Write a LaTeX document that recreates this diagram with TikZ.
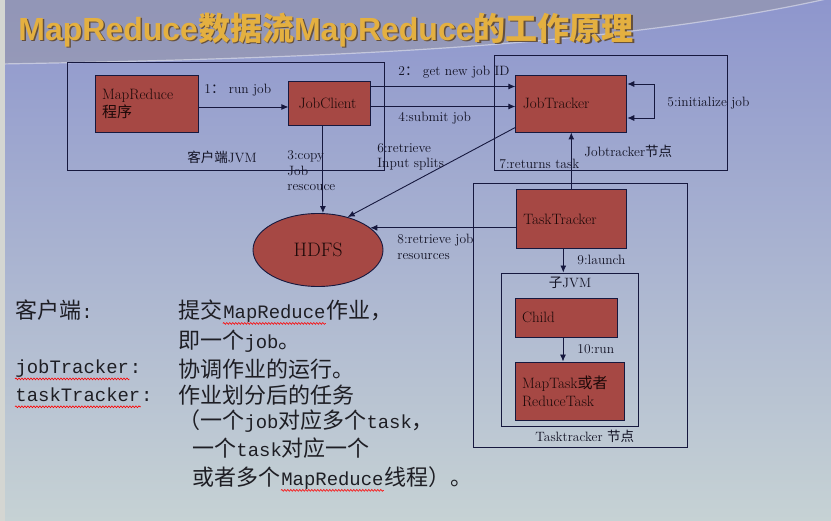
\documentclass[tikz,border=0pt]{standalone}
\usepackage{fontspec}
\setmonofont{Liberation Mono}[Scale=0.86]
\newfontfamily\cjk{Noto Sans CJK SC}
\newfontfamily\headfont{Liberation Sans}
\usetikzlibrary{
  shapes.geometric,
  positioning,
  calc,
  decorations.pathmorphing,
  arrows.meta}
\definecolor{boxcolor}{RGB}{166,72,68}
\definecolor{boxtext}{RGB}{28,8,8}
\definecolor{linecolor}{RGB}{22,24,62}
\definecolor{labelcolor}{RGB}{18,18,36}
\definecolor{notecolor}{RGB}{30,30,36}
\definecolor{titlecolor}{RGB}{228,176,64}
\definecolor{titleshade}{RGB}{100,80,62}
\definecolor{bgtop}{RGB}{142,150,205}
\definecolor{bgmid}{RGB}{186,196,238}
\definecolor{bgbottom}{RGB}{198,210,212}
\definecolor{swoosh}{RGB}{150,150,166}
\definecolor{stripcolor}{RGB}{212,214,210}

\tikzset{
  %% redbox : a daemon or process
  redbox/.style={
    rectangle,
    draw=linecolor,
    fill=boxcolor,
    text=boxtext,
    font=\fontsize{15}{18}\selectfont,
    inner xsep=7pt,
    inner ysep=0pt,
    align=left
  },
  %% store : the file system
  store/.style={
    ellipse,
    draw=linecolor,
    fill=boxcolor,
    text=boxtext,
    font=\fontsize{19.5}{22}\selectfont,
    minimum width=130pt,
    minimum height=73pt,
    inner sep=0pt
  },
  %% jvmframe : frame round a JVM or a machine
  jvmframe/.style={
    rectangle,
    draw=linecolor,
    inner sep=0pt
  },
  %% flow : a call or a data flow
  flow/.style={
    draw=linecolor,
    line width=0.9pt,
    -{Latex[length=7pt,width=6pt]}
  },
  %% steplabel : text at a flow
  steplabel/.style={
    text=labelcolor,
    font=\fontsize{13.5}{15.5}\selectfont,
    align=left,
    inner sep=0pt,
    anchor=west
  },
  %% note : the notes below the diagram
  note/.style={
    text=notecolor,
    font=\fontsize{22}{26}\selectfont,
    inner sep=0pt,
    anchor=west
  },
  %% spellmark : red wavy line under a word
  spellmark/.style={
    red,
    line width=0.6pt,
    decorate,
    decoration={snake, amplitude=0.9pt, segment length=3pt}
  }
}

\newcommand\titletext{%
  {\headfont\bfseries MapReduce}{\cjk\bfseries 数据流}%
  {\headfont\bfseries MapReduce}{\cjk\bfseries 的工作原理}}

\begin{document}
\begin{tikzpicture}
  [x=1pt,
  y=-1pt,
  line width=0.9pt]

  \useasboundingbox (0,0) rectangle (831,521);

  %% Background
  \fill [top color=bgtop, middle color=bgmid, bottom color=bgbottom]
  (0,0) rectangle (831,521);
  \fill [swoosh, opacity=0.55] (0,0) -- (831,0) -- (831,-2)
  .. controls (620,45) and (350,58) .. (0,64) -- cycle;
  \draw [white, opacity=0.45, line width=1.2pt] (831,-2)
  .. controls (620,45) and (350,58) .. (0,64);
  \fill [stripcolor] (0,0) rectangle (5,521);

  %% Title
  \node (titleshadow) [anchor=west, inner sep=0pt, text=titleshade,
  font=\fontsize{32}{36}\selectfont] at (19.5,31.5) {\titletext};
  \node (title) [anchor=west, inner sep=0pt, text=titlecolor,
  font=\fontsize{32}{36}\selectfont] at (18,30) {\titletext};

  %% Frames
  \node (clientjvm) [jvmframe, minimum width=317pt, minimum height=108pt]
  at (225.5,116) {};
  \node (jtframe) [jvmframe, minimum width=233pt, minimum height=115pt]
  at (610.5,112.5) {};
  \node (ttframe) [jvmframe, minimum width=214pt, minimum height=264pt]
  at (580,315) {};
  \node (jvmbox) [jvmframe, minimum width=137pt, minimum height=153pt]
  at (569.5,349.5) {};

  %% Daemons and processes
  \node (prog) [redbox, text width=89pt, minimum height=57pt]
  at (146.5,103.5) {%
    MapReduce\\
    {\cjk 程序}
  };

  \node (client) [redbox, right=90pt of prog, minimum width=82pt,
  minimum height=44pt, align=center]{%
    JobClient
  };

  \node (jt) [redbox, right=144pt of client, text width=97pt,
  minimum height=57pt]{%
    JobTracker
  };

  \node (tt) [redbox, below=57pt of jt, text width=96pt,
  minimum height=59pt]{%
    TaskTracker
  };

  \node (hdfs) [store] at (318,250) {HDFS};

  \node (child) [redbox, text width=88pt, minimum height=39pt]
  at (566,317.5) {%
    Child
  };

  \node (task) [redbox, text width=95pt, minimum height=58pt]
  at (569.5,391) {%
    MapTask{\cjk 或者}\\
    ReduceTask
  };

  %% Connections
  \draw [flow] ([yshift=-3.5pt]prog.east) -- ([yshift=-3.5pt]prog.east -| client.west);
  \draw [flow] ([yshift=17pt]client.east) -- ([yshift=17pt]client.east -| jt.west);
  \draw [flow] ([yshift=-3pt]client.east) -- ([yshift=-3pt]client.east -| jt.west);
  \draw [flow] ([xshift=-7pt]client.south) -- ([xshift=-7pt]client.south |- hdfs.north);
  \draw [draw=linecolor, {Latex[length=7pt,width=6pt]}-{Latex[length=7pt,width=6pt]}]
  ([yshift=19.5pt]jt.east) -- ++(27,0) -- ++(0,34) -- ++(-27,0);
  \draw [flow] ([yshift=5pt]jt.south west) -- (hdfs.48);
  \draw [flow] (tt.north) -- (tt.north |- jt.south);
  \draw [flow] (tt.west |- hdfs.23) -- (hdfs.23);
  \draw [flow] ([xshift=-8pt]tt.south) -- ([xshift=-8pt]tt.south |- jvmbox.north);
  \draw [flow] ([xshift=-3pt]child.south) -- ([xshift=-3pt]child.south |- task.north);

  %% Labels
  \node (lrun) [steplabel] at (204,90) {1{\cjk ：} run job};
  \node (lgetid) [steplabel] at (398,72) {2{\cjk ：} get new job ID};
  \node (lsubmit) [steplabel] at (398,118) {4:submit job};
  \node (linit) [steplabel] at (667,103) {5:initialize job};
  \node (ljtnode) [steplabel] at (584,151) {Jobtracker{\cjk 节点}};
  \node (lclientjvm) [steplabel] at (187,157) {{\cjk 客户端}JVM};
  \node (lcopy) [steplabel] at (287,171) {%
    3:copy\\
    Job\\
    rescouce};
  \node (lsplits) [steplabel] at (377,157) {%
    6:retrieve\\
    Input splits};
  \node (lreturns) [steplabel] at (499,164) {7:returns task};
  \node (lresources) [steplabel] at (397,247) {%
    8:retrieve job\\
    resources};
  \node (llaunch) [steplabel] at (577,260) {9:launch};
  \node (lchildjvm) [steplabel, anchor=center] at (570,283) {{\cjk 子}JVM};
  \node (lrun10) [steplabel] at (577,349) {10:run};
  \node (lttnode) [steplabel] at (535,436) {Tasktracker {\cjk 节点}};

  %% Notes
  \node (key1) [note] at (15,310) {{\cjk 客户端}\ttfamily :};
  \node (key2) [note] at (15,369) {\ttfamily jobTracker};
  \node (key2c) [note, anchor=base west] at (key2.base east) {\ttfamily :};
  \node (key3) [note] at (15,395) {\ttfamily taskTracker};
  \node (key3c) [note, anchor=base west] at (key3.base east) {\ttfamily :};

  \node (note1) [note] at (178,310) {\cjk 提交};
  \node (note1b) [note, anchor=base west] at (note1.base east) {\ttfamily MapReduce};
  \node (note1c) [note, anchor=base west] at (note1b.base east) {\cjk 作业，};
  \node (note2) [note] at (178,341) {%
    {\cjk 即一个}{\ttfamily job}{\cjk 。}};
  \node (note3) [note] at (178,369) {\cjk 协调作业的运行。};
  \node (note4) [note] at (178,395) {\cjk 作业划分后的任务};
  \node (note5) [note] at (178,421) {%
    {\cjk （一个}{\ttfamily job}{\cjk 对应多个}{\ttfamily task}{\cjk ，}};
  \node (note6) [note] at (192,448) {%
    {\cjk 一个}{\ttfamily task}{\cjk 对应一个}};
  \node (note7) [note] at (192,477) {\cjk 或者多个};
  \node (note7b) [note, anchor=base west] at (note7.base east) {\ttfamily MapReduce};
  \node (note7c) [note, anchor=base west] at (note7b.base east) {\cjk 线程）。};

  %% Spell marks
  \draw [spellmark] ([yshift=-5pt]key2.base west) -- ([yshift=-5pt]key2.base east);
  \draw [spellmark] ([yshift=-5pt]key3.base west) -- ([yshift=-5pt]key3.base east);
  \draw [spellmark] ([yshift=-5pt]note1b.base west) -- ([yshift=-5pt]note1b.base east);
  \draw [spellmark] ([yshift=-5pt]note7b.base west) -- ([yshift=-5pt]note7b.base east);

\end{tikzpicture}
\end{document}
